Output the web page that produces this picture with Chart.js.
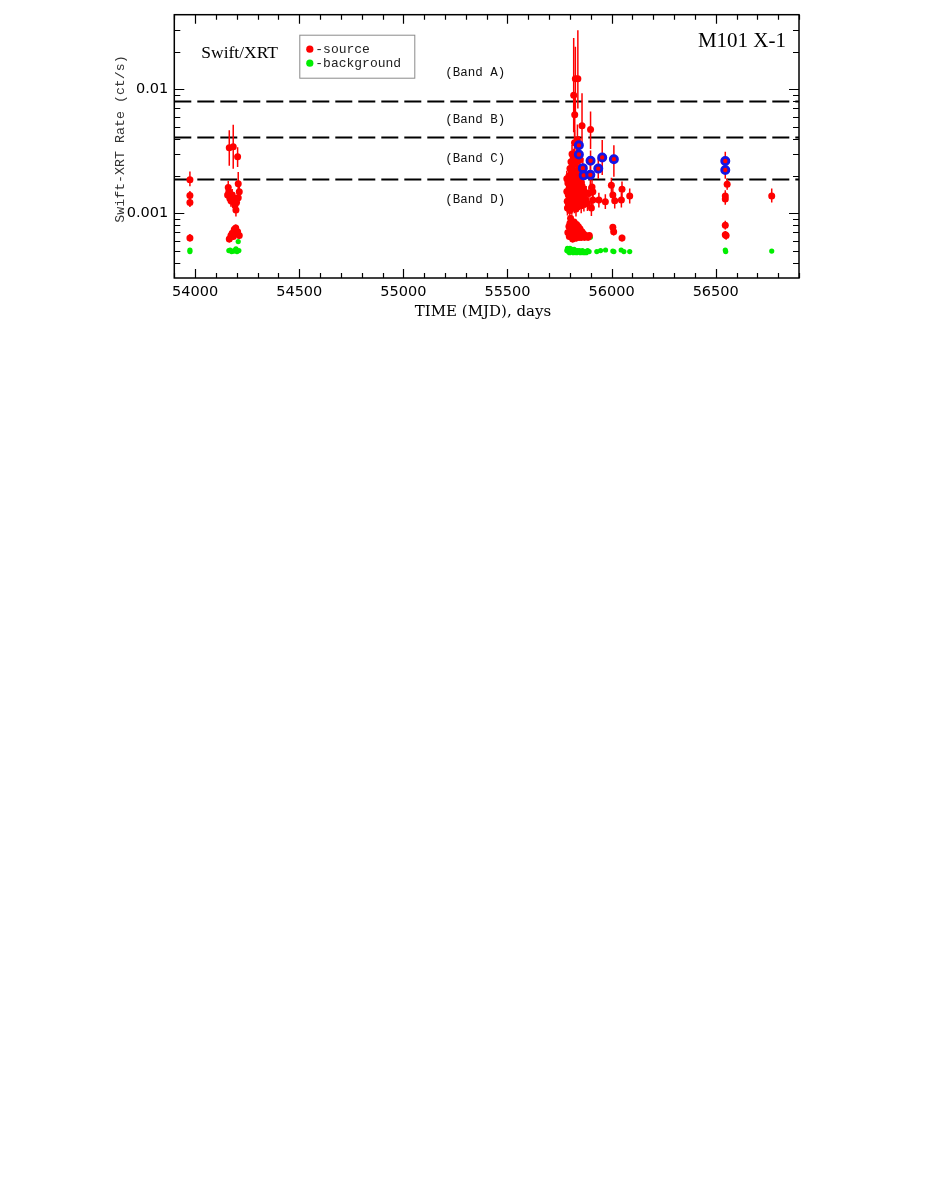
<!DOCTYPE html>
<html>
<head>
<meta charset="utf-8">
<script src="https://cdn.jsdelivr.net/npm/chart.js@4.4.0/dist/chart.umd.min.js"></script>
<style>
html,body{margin:0;padding:0;background:#fff;}
#wrap{position:absolute;left:0;top:0;width:926px;height:340px;}
</style>
</head>
<body>
<div id="wrap"><canvas id="c" width="926" height="340"></canvas></div>
<script>
// ---------------- DATA ----------------
const xLimits = [53900, 56900];
const yLimits = [0.00032, 0.04];
const xTickValues = [54000, 54500, 55000, 55500, 56000, 56500];
const yTickValues = [0.001, 0.01];
const yTickLabels = ['0.001', '0.01'];

const bandLevels = [0.008, 0.0041, 0.0019];
const bandNames = ['(Band A)', '(Band B)', '(Band C)', '(Band D)'];
const bandLabelMJD = 55345;
const bandLabelRate = [0.0137, 0.00567, 0.00278, 0.00128];

// Source (red) points: MJD, rate, error-bar low end, error-bar high end
const srcMJD = [
  53975,53975,53975,53975,
  54164,54183,54204,54159,54156,54167,54178,54183,54191,54196,54207,54207,54212,54172,54188,54199,54162,
  54164,54172,54178,54188,54195,54204,54212,54183,
  55785,55785,55787,55788,55790,55792,55793,55795,55796,55798,
  55799,55800,55801,55802,55803,55805,55806,55807,55808,55809,
  55810,55811,55812,55813,55815,55816,55817,55818,55819,55820,
  55821,55822,55823,55824,55825,55826,55827,55828,55829,55830,
  55832,55833,55834,55835,55836,55837,55838,55839,55840,55841,
  55843,55844,55845,55846,55848,55850,55851,55852,55854,55855,
  55856,55858,55860,55862,55865,55867,55870,55872,55875,55878,
  55884,55891,55899,55903,55906,55910,55910,55939,55970,55999,
  56006,56015,56047,56050,56087,
  55790,55795,55797,55800,55803,55805,55808,55810,55813,55815,
  55818,55820,55823,55825,55828,55830,55832,55835,55838,55840,
  55843,55846,55848,55852,55855,55858,55862,55866,55870,55875,
  55880,55887,55893,56006,56010,56050,
  56555,56546,56546,56546,56550,56546,56769
];
const srcRate = [
  0.00186,0.00139,0.00122,0.00063,
  0.00338,0.00344,0.00285,0.00161,0.00140,0.00132,0.00140,0.00124,0.00116,0.00106,0.00133,0.00173,0.00149,0.00126,0.00132,0.00122,0.00149,
  0.00062,0.00066,0.00069,0.00074,0.00076,0.00071,0.00066,0.00065,
  0.00190,0.00150,0.00125,0.00110,0.00175,0.00140,0.00118,0.00200,0.00160,0.00130,
  0.00105,0.00230,0.00185,0.00145,0.00120,0.00260,0.00210,0.00165,0.00135,0.00112,
  0.00300,0.00240,0.00190,0.00150,0.00125,0.00280,0.00215,0.00896,0.00170,0.00140,
  0.00115,0.00371,0.00622,0.00250,0.00195,0.01216,0.00160,0.00130,0.00108,0.00290,
  0.00220,0.00175,0.00145,0.00120,0.00390,0.00265,0.01216,0.00205,0.00160,0.00130,
  0.00230,0.00185,0.00150,0.00122,0.00270,0.00200,0.00165,0.00135,0.00115,0.00175,
  0.00145,0.00508,0.00125,0.00160,0.00135,0.00118,0.00150,0.00128,0.00128,0.00145,
  0.00120,0.00144,0.00473,0.00110,0.00163,0.00149,0.00128,0.00128,0.00124,0.00168,
  0.00140,0.00126,0.00128,0.00156,0.00138,
  0.00070,0.00078,0.00065,0.00083,0.00091,0.00072,0.00066,0.00079,0.00062,0.00074,
  0.00068,0.00085,0.00064,0.00076,0.00069,0.00063,0.00081,0.00072,0.00066,0.00078,
  0.00070,0.00064,0.00075,0.00068,0.00064,0.00071,0.00066,0.00068,0.00064,0.00066,
  0.00065,0.00064,0.00066,0.00077,0.00071,0.00063,
  0.00171,0.00138,0.00130,0.00080,0.00066,0.00067,0.00138
];
const srcLow = [
  0.00165,0.00127,0.00112,0.00059,
  0.00241,0.00228,0.00236,0.00143,0.00126,0.00118,0.00124,0.00110,0.00103,0.00094,0.00119,0.00153,0.00133,0.00113,0.00118,0.00108,0.00133,
  0.00058,0.00062,0.00065,0.00070,0.00071,0.00067,0.00062,0.00061,
  0.00163,0.00130,0.00109,0.00096,0.00152,0.00122,0.00103,0.00172,0.00139,0.00113,
  0.00092,0.00196,0.00160,0.00126,0.00104,0.00220,0.00180,0.00143,0.00117,0.00097,
  0.00250,0.00204,0.00163,0.00130,0.00109,0.00234,0.00184,0.00450,0.00147,0.00122,
  0.00100,0.00290,0.00400,0.00212,0.00167,0.00650,0.00139,0.00113,0.00094,0.00243,
  0.00188,0.00152,0.00126,0.00104,0.00300,0.00224,0.00700,0.00176,0.00139,0.00113,
  0.00196,0.00160,0.00130,0.00106,0.00228,0.00172,0.00143,0.00117,0.00100,0.00152,
  0.00126,0.00370,0.00109,0.00139,0.00117,0.00103,0.00130,0.00111,0.00111,0.00126,
  0.00104,0.00125,0.00330,0.00095,0.00141,0.00129,0.00111,0.00111,0.00108,0.00146,
  0.00122,0.00109,0.00111,0.00124,0.00120,
  0.00066,0.00073,0.00061,0.00078,0.00086,0.00068,0.00062,0.00074,0.00058,0.00070,
  0.00064,0.00080,0.00060,0.00072,0.00065,0.00059,0.00076,0.00068,0.00062,0.00073,
  0.00066,0.00060,0.00071,0.00064,0.00060,0.00067,0.00062,0.00064,0.00060,0.00062,
  0.00061,0.00060,0.00062,0.00072,0.00066,0.00059,
  0.00155,0.00124,0.00117,0.00074,0.00061,0.00062,0.00122
];
const srcHigh = [
  0.00217,0.00151,0.00133,0.00068,
  0.00467,0.00518,0.00340,0.00182,0.00155,0.00147,0.00157,0.00139,0.00130,0.00119,0.00148,0.00215,0.00166,0.00141,0.00147,0.00137,0.00166,
  0.00066,0.00070,0.00073,0.00079,0.00081,0.00075,0.00070,0.00069,
  0.00220,0.00172,0.00142,0.00125,0.00200,0.00159,0.00134,0.00231,0.00183,0.00148,
  0.00119,0.00267,0.00212,0.00165,0.00137,0.00304,0.00243,0.00189,0.00154,0.00128,
  0.00356,0.00279,0.00219,0.00172,0.00142,0.00331,0.00249,0.02600,0.00195,0.00160,
  0.00131,0.00470,0.00900,0.00292,0.00226,0.02200,0.00183,0.00148,0.00123,0.00342,
  0.00255,0.00200,0.00166,0.00137,0.00520,0.00310,0.03000,0.00238,0.00183,0.00148,
  0.00267,0.00212,0.00172,0.00139,0.00317,0.00231,0.00189,0.00154,0.00131,0.00200,
  0.00166,0.00930,0.00142,0.00183,0.00154,0.00134,0.00172,0.00146,0.00146,0.00166,
  0.00137,0.00165,0.00661,0.00126,0.00187,0.00171,0.00146,0.00146,0.00142,0.00193,
  0.00160,0.00144,0.00146,0.00180,0.00158,
  0.00074,0.00083,0.00069,0.00088,0.00096,0.00076,0.00070,0.00084,0.00066,0.00078,
  0.00072,0.00090,0.00068,0.00080,0.00073,0.00067,0.00086,0.00076,0.00070,0.00083,
  0.00074,0.00068,0.00079,0.00072,0.00068,0.00075,0.00070,0.00072,0.00068,0.00070,
  0.00069,0.00068,0.00070,0.00082,0.00076,0.00067,
  0.00190,0.00153,0.00145,0.00087,0.00071,0.00072,0.00158
];

// Highlighted source points (blue ring)
const hiMJD  = [55843,55843,55862,55866,55899,55898,55936,55955,56011,56546,56546];
const hiRate = [0.00353,0.00298,0.00231,0.00202,0.00265,0.00204,0.00229,0.00282,0.00273,0.00264,0.00223];
const hiLow  = [0.00300,0.00250,0.00190,0.00170,0.00220,0.00170,0.00190,0.00203,0.00197,0.00220,0.00190];
const hiHigh = [0.00420,0.00360,0.00280,0.00240,0.00320,0.00250,0.00280,0.00390,0.00353,0.00314,0.00260];

// Background (green) points
const bkgMJD = [
  53975,53975,
  54162,54168,54175,54182,54188,54196,54201,54207,54210,
  55785,55788,55792,55795,55798,55800,55803,55806,55810,55813,
  55816,55820,55824,55828,55832,55836,55840,55845,55850,55855,
  55860,55866,55872,55878,55885,55892,55898,
  55929,55947,55971,56006,56011,56046,56059,56087,
  56546,56548,56769
];
const bkgRate = [
  0.000505,0.000490,
  0.000499,0.000505,0.000490,0.000493,0.000499,0.000515,0.000490,0.000590,0.000499,
  0.000500,0.000520,0.000490,0.000510,0.000480,0.000520,0.000500,0.000490,0.000510,0.000500,
  0.000480,0.000510,0.000490,0.000500,0.000480,0.000500,0.000490,0.000500,0.000480,0.000490,
  0.000500,0.000480,0.000490,0.000480,0.000500,0.000490,0.000640,
  0.000490,0.000499,0.000505,0.000495,0.000490,0.000505,0.000490,0.000490,
  0.000505,0.000490,0.000495
];

// ---------------- CHART ----------------
const srcData = srcMJD.map((x, i) => ({x: x, y: srcRate[i], lo: srcLow[i], hi: srcHigh[i]}));
const hiData = hiMJD.map((x, i) => ({x: x, y: hiRate[i], lo: hiLow[i], hi: hiHigh[i]}));
const bkgData = bkgMJD.map((x, i) => ({x: x, y: bkgRate[i]}));

const RED = '#ff0000', GREEN = '#00ee00', BLUE = '#1414e6';
const MONO = '"Liberation Mono", "DejaVu Sans Mono", monospace';

const decorPlugin = {
  id: 'decor',
  beforeDatasetsDraw(chart) {
    const {ctx, chartArea: a, scales: {x, y}} = chart;
    ctx.save();
    ctx.beginPath();
    ctx.rect(a.left, a.top, a.right - a.left, a.bottom - a.top);
    ctx.clip();
    // band lines
    ctx.strokeStyle = '#000';
    ctx.lineWidth = 2;
    ctx.setLineDash([17, 6]);
    bandLevels.forEach(v => {
      const py = Math.round(y.getPixelForValue(v)) + 0.5;
      ctx.beginPath();
      ctx.moveTo(a.left, py);
      ctx.lineTo(a.right, py);
      ctx.stroke();
    });
    ctx.setLineDash([]);
    // error bars
    ctx.strokeStyle = RED;
    ctx.lineWidth = 1.5;
    [0, 1].forEach(di => {
      chart.data.datasets[di].data.forEach(p => {
        const px = x.getPixelForValue(p.x);
        ctx.beginPath();
        ctx.moveTo(px, y.getPixelForValue(p.lo));
        ctx.lineTo(px, y.getPixelForValue(p.hi));
        ctx.stroke();
      });
    });
    ctx.restore();
  },
  afterDatasetsDraw(chart) {
    const {ctx, chartArea: a, scales: {x, y}} = chart;
    ctx.save();
    // frame
    ctx.strokeStyle = '#000';
    ctx.lineWidth = 1.5;
    ctx.strokeRect(a.left, a.top, a.right - a.left, a.bottom - a.top);
    // ticks
    ctx.lineWidth = 1.2;
    ctx.beginPath();
    for (let v = Math.ceil(x.min / 100) * 100; v <= x.max; v += 100) {
      const px = Math.round(x.getPixelForValue(v)) + 0.5;
      const len = (v % 500 === 0) ? 9 : 5;
      ctx.moveTo(px, a.bottom); ctx.lineTo(px, a.bottom - len);
      ctx.moveTo(px, a.top); ctx.lineTo(px, a.top + len);
    }
    for (let e = -5; e <= -1; e++) {
      for (let m = 1; m <= 9; m++) {
        const v = m * Math.pow(10, e);
        if (v < y.min * 1.0001 || v > y.max * 0.9999) continue;
        const py = Math.round(y.getPixelForValue(v)) + 0.5;
        const len = (m === 1) ? 10 : 6;
        ctx.moveTo(a.left, py); ctx.lineTo(a.left + len, py);
        ctx.moveTo(a.right, py); ctx.lineTo(a.right - len, py);
      }
    }
    ctx.stroke();

    // band labels
    ctx.fillStyle = '#111';
    ctx.font = '12.5px ' + MONO;
    ctx.textAlign = 'center';
    ctx.textBaseline = 'middle';
    bandNames.forEach((t, i) => {
      ctx.fillText(t, x.getPixelForValue(bandLabelMJD), y.getPixelForValue(bandLabelRate[i]));
    });

    // annotation titles
    ctx.fillStyle = '#000';
    ctx.textBaseline = 'alphabetic';
    ctx.textAlign = 'left';
    ctx.font = '17.5px "Liberation Serif", "Times New Roman", serif';
    ctx.fillText('Swift/XRT', a.left + 27, a.top + 43);
    ctx.textAlign = 'right';
    ctx.font = '21px "Liberation Serif", "Times New Roman", serif';
    ctx.fillText('M101 X-1', a.right - 13, a.top + 32);

    // legend box
    const lx = a.left + 125, ly = a.top + 20, lw = 115, lh = 43;
    ctx.strokeStyle = '#8a8a8a';
    ctx.lineWidth = 1;
    ctx.strokeRect(lx + 0.5, ly + 0.5, lw, lh);
    const items = [chart.data.datasets[1], chart.data.datasets[2]];
    ctx.font = '13px ' + MONO;
    ctx.textAlign = 'left';
    ctx.textBaseline = 'middle';
    items.forEach((ds, i) => {
      const cy = ly + 14.5 + i * 14;
      ctx.fillStyle = ds.pointBackgroundColor;
      ctx.beginPath();
      ctx.arc(lx + 10.5, cy, 3.6, 0, Math.PI * 2);
      ctx.fill();
      ctx.fillStyle = '#222';
      ctx.fillText(ds.label, lx + 16, cy);
    });

    // axis titles
    ctx.fillStyle = '#000';
    ctx.textAlign = 'center';
    ctx.textBaseline = 'middle';
    ctx.font = '15px "DejaVu Serif", serif';
    ctx.fillText('TIME (MJD), days', 483, 312);
    ctx.save();
    ctx.translate(120, 139);
    ctx.rotate(-Math.PI / 2);
    ctx.fillStyle = '#333';
    ctx.font = '13.3px ' + MONO;
    ctx.fillText('Swift-XRT Rate (ct/s)', 0, 0);
    ctx.restore();
    ctx.restore();
  }
};

new Chart(document.getElementById('c'), {
  type: 'scatter',
  data: {
    datasets: [
      {label: 'highlight', data: hiData, pointRadius: 3.6, pointBorderWidth: 2.8,
       pointBackgroundColor: RED, pointBorderColor: BLUE, pointHoverRadius: 3.6},
      {label: '-source', data: srcData, pointRadius: 3.5, pointBorderWidth: 0,
       pointBackgroundColor: RED, pointBorderColor: RED, pointHoverRadius: 3.5},
      {label: '-background', data: bkgData, pointRadius: 2.6, pointBorderWidth: 0,
       pointBackgroundColor: GREEN, pointBorderColor: GREEN, pointHoverRadius: 2.6}
    ]
  },
  options: {
    responsive: false,
    animation: false,
    events: [],
    layout: {padding: {left: 0, top: 14, right: 127, bottom: 0}},
    plugins: {legend: {display: false}, tooltip: {enabled: false}},
    scales: {
      x: {
        type: 'linear', min: xLimits[0], max: xLimits[1],
        grid: {display: false, drawTicks: false},
        border: {display: false},
        ticks: {
          stepSize: 100, includeBounds: false, autoSkip: false, maxRotation: 0,
          padding: 6, color: '#000',
          font: {family: '"DejaVu Sans", sans-serif', size: 14.5},
          callback: v => xTickValues.some(t => Math.abs(t - v) < 0.01) ? String(Math.round(v)) : ''
        },
        afterFit: s => { s.height = 62; }
      },
      y: {
        type: 'logarithmic', min: yLimits[0], max: yLimits[1],
        grid: {display: false, drawTicks: false},
        border: {display: false},
        ticks: {
          autoSkip: false, padding: 6, color: '#000',
          font: {family: '"DejaVu Sans", sans-serif', size: 14.5},
          callback: v => {
            const i = yTickValues.findIndex(t => Math.abs(v / t - 1) < 1e-6);
            return i >= 0 ? yTickLabels[i] : '';
          }
        },
        afterFit: s => { s.width = 174.3; }
      }
    }
  },
  plugins: [decorPlugin]
});
</script>
</body>
</html>
